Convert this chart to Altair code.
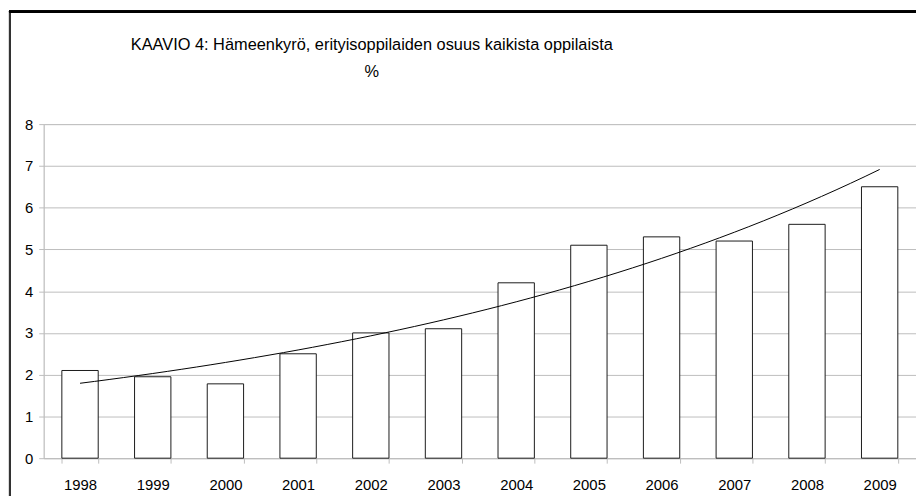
import altair as alt
import pandas as pd

years = [1998, 1999, 2000, 2001, 2002, 2003, 2004, 2005, 2006, 2007, 2008, 2009]
values = [2.1, 1.95, 1.78, 2.5, 3.0, 3.1, 4.2, 5.1, 5.3, 5.2, 5.6, 6.5]
title_lines = ["KAAVIO 4: Hämeenkyrö, erityisoppilaiden osuus kaikista oppilaista", "%"]

df = pd.DataFrame({"year": years, "value": values})
FONT = "Liberation Sans"
GRID = "#bdbdbd"

base = alt.Chart(df)

bars = base.mark_bar(fill="white", stroke="#1a1a1a", strokeWidth=1).encode(
    x=alt.X("year:O", title=None,
            scale=alt.Scale(paddingInner=0.5, paddingOuter=0.25),
            axis=alt.Axis(labelAngle=0, tickBand="extent", labelFontSize=15, labelFont=FONT,
                          labelColor="#000", labelPadding=15, tickSize=5, tickColor=GRID,
                          domainColor=GRID, grid=False)),
    y=alt.Y("value:Q", title=None,
            scale=alt.Scale(domain=[0, 8], nice=False),
            axis=alt.Axis(values=[0, 1, 2, 3, 4, 5, 6, 7, 8], labelFontSize=15, labelFont=FONT,
                          labelColor="#000", labelPadding=6, tickSize=5, tickColor=GRID,
                          domainColor=GRID, gridColor=GRID, grid=True)),
)

# Exponential trend (least squares on log values), computed by Vega transforms
trend = base.transform_calculate(
    idx="datum.year - 1998",
    ly="log(datum.value)",
).transform_calculate(
    xly="datum.idx * datum.ly",
    xx="datum.idx * datum.idx",
).transform_joinaggregate(
    mx="mean(idx)", my="mean(ly)", mxy="mean(xly)", mxx="mean(xx)"
).transform_calculate(
    b="(datum.mxy - datum.mx * datum.my) / (datum.mxx - datum.mx * datum.mx)"
).transform_calculate(
    a="datum.my - datum.b * datum.mx",
    t="sequence(0, 1, 0.2)",
).transform_flatten(["t"]).transform_calculate(
    xf="datum.idx + datum.t"
).transform_filter("datum.xf <= 11.0001").transform_calculate(
    yf="exp(datum.a + datum.b * datum.xf)"
).mark_line(color="#000", strokeWidth=1).encode(
    x=alt.X("xf:Q", scale=alt.Scale(domain=[-0.5, 11.5], nice=False, zero=False), axis=None),
    y=alt.Y("yf:Q"),
)

frame_left = alt.Chart(df).mark_rule(color="#333", strokeWidth=2).encode(
    x=alt.value(-34), y=alt.value(-114), y2=alt.value(380)
)
frame_top = alt.Chart(df).mark_rule(color="#000", strokeWidth=2).encode(
    x=alt.value(-35), x2=alt.value(880), y=alt.value(-113.5)
)

chart = alt.layer(bars, trend, frame_left, frame_top).resolve_scale(
    x="independent"
).properties(
    width=880,
    height=337,
    autosize=alt.AutoSizeParams(type="none"),
    padding={"left": 36, "top": 115, "right": 0, "bottom": 36},
    title=alt.TitleParams(text=title_lines, fontSize=16.5, font=FONT, fontWeight="normal",
                          color="#000", anchor="middle", dx=-109, offset=-87,
                          baseline="bottom", lineHeight=27),
).configure_view(stroke=None).configure(background="white")

chart.save("out.html", embed_options={"renderer": "svg", "actions": False})
